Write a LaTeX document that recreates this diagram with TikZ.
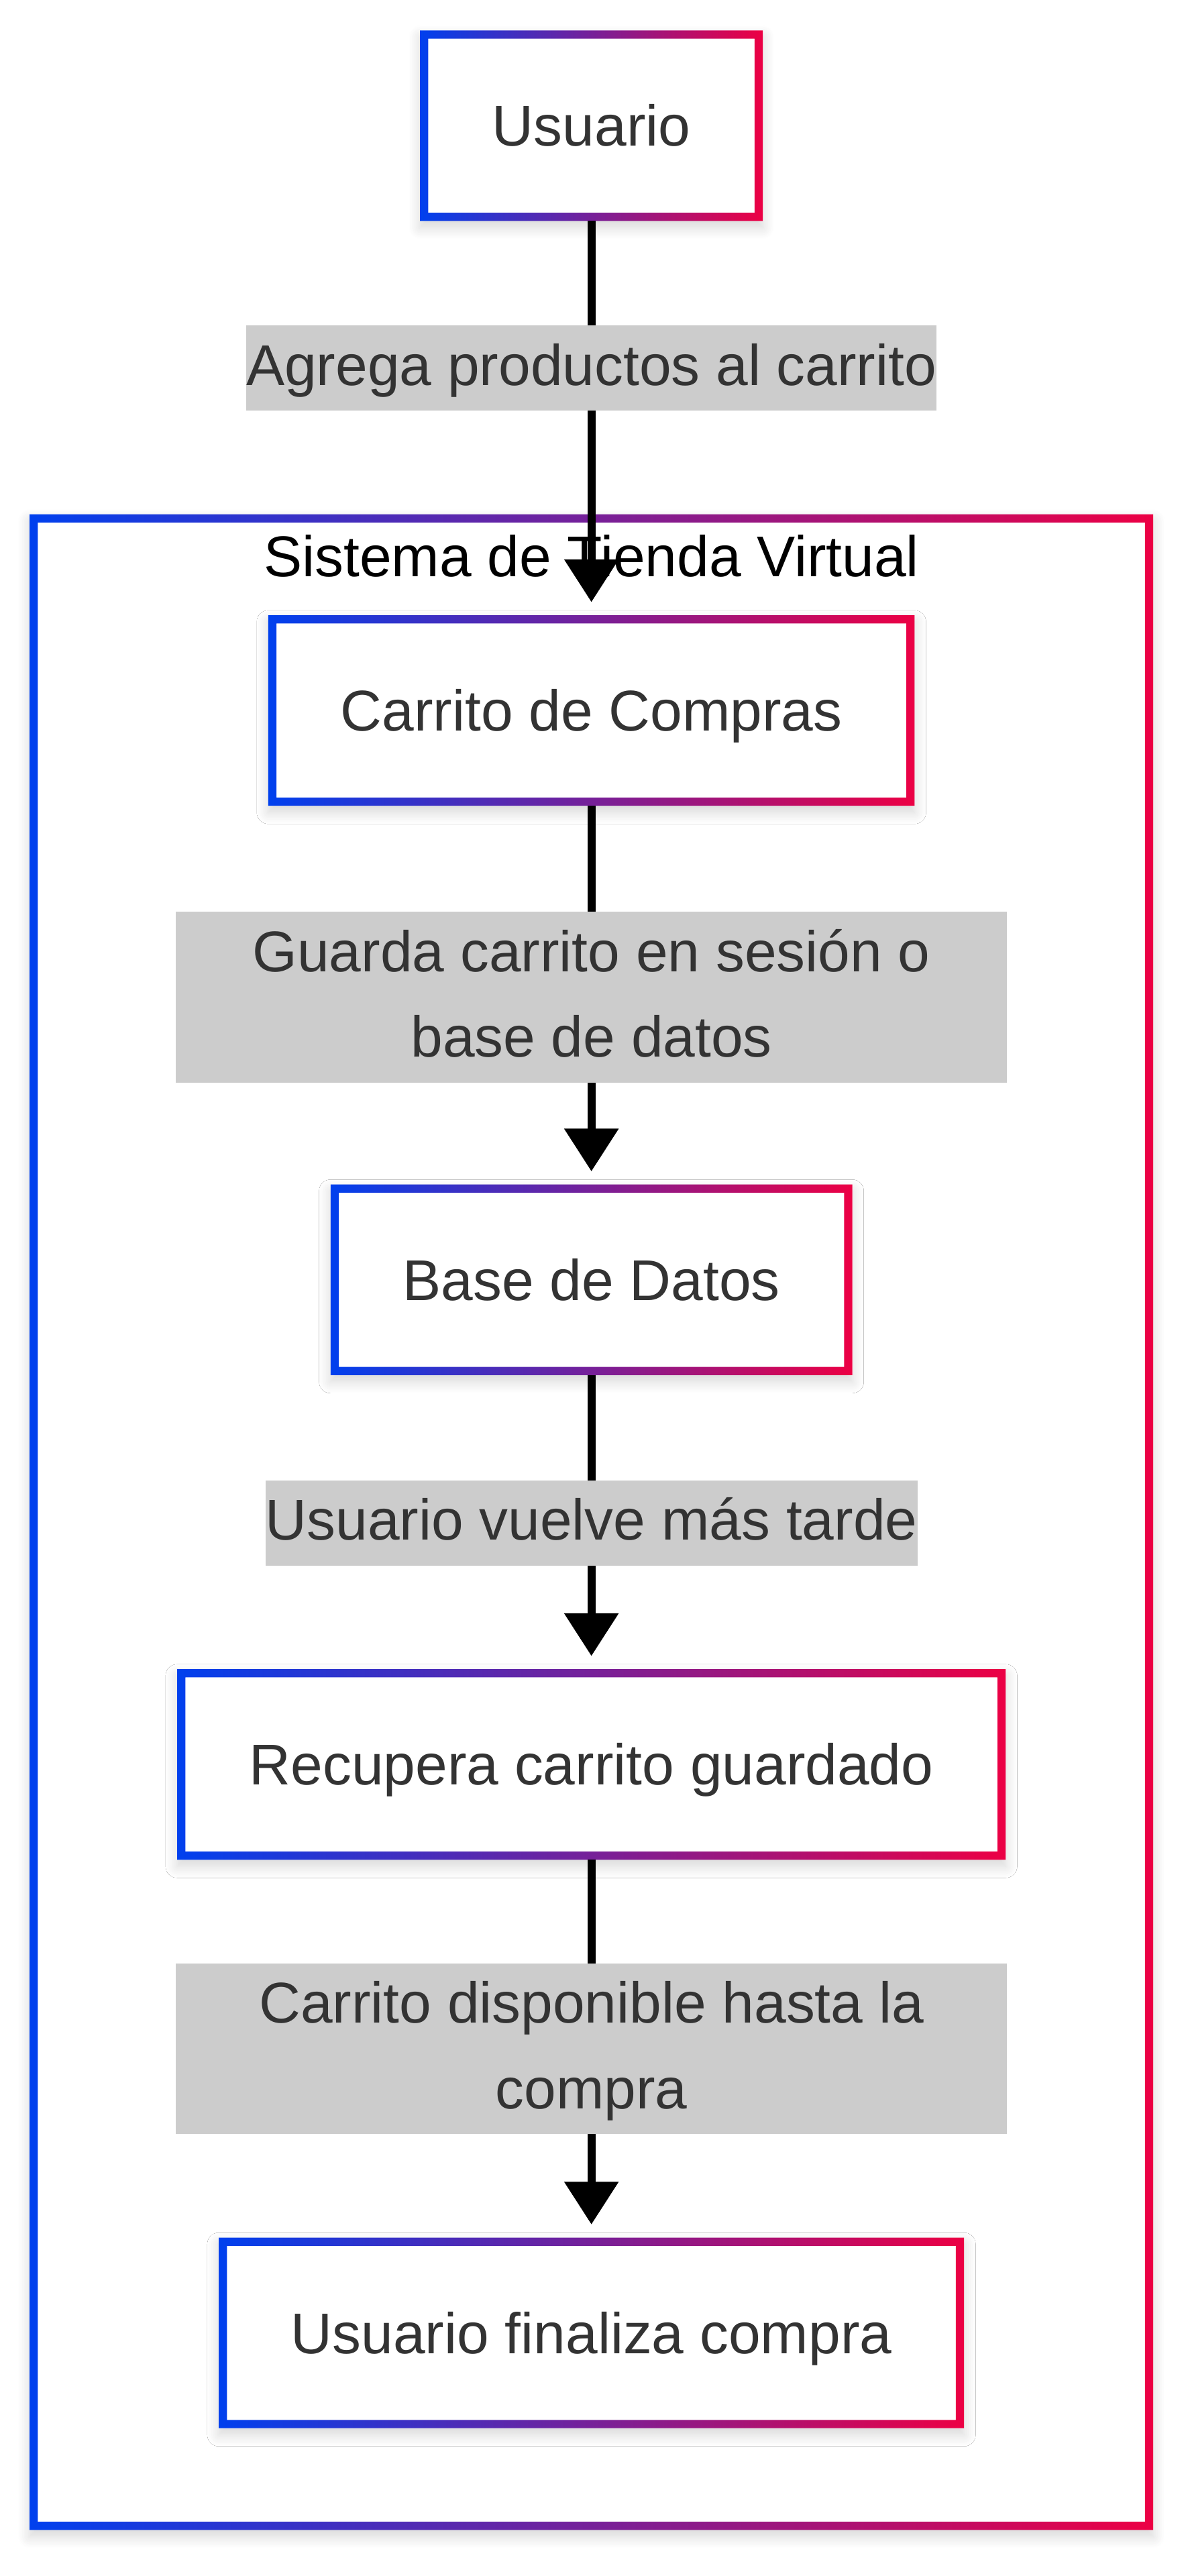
\documentclass[tikz,border=0pt]{standalone}
\usepackage{fontspec}
\setmainfont{Liberation Sans}
\usepackage{tikz}
\usetikzlibrary{arrows.meta, shadows.blur}
\definecolor{tvblue}{RGB}{0,64,238}
\definecolor{tvred}{RGB}{236,0,68}
\definecolor{tvtext}{RGB}{51,51,51}
\definecolor{tvlabel}{RGB}{204,204,204}
\newcommand{\gradframe}[1]{%
  \shade[left color=tvblue, right color=tvred, even odd rule]
    (#1.south west) rectangle (#1.north east)
    ([xshift=5pt,yshift=5pt]#1.south west) rectangle ([xshift=-5pt,yshift=-5pt]#1.north east);}

\begin{document}
\begin{tikzpicture}[
  x=1pt, y=-1pt,
  font=\fontsize{35}{52}\selectfont,
  softshadow/.style={blur shadow={shadow xshift=0pt, shadow yshift=-4pt, shadow blur radius=7pt, shadow blur steps=12, shadow opacity=16}},
  stepbox/.style={rectangle, fill=white, text=tvtext, minimum height=116pt, inner xsep=44pt, inner ysep=0pt, outer sep=0pt, text height=31pt, text depth=6pt, softshadow},
  cluster/.style={rectangle, fill=white, minimum width=684pt, minimum height=1227pt, outer sep=0pt, softshadow},
  edgelabel/.style={fill=tvlabel, text=tvtext, inner sep=0pt, align=flush center, execute at begin node=\strut, execute at end node=\strut},
  arrow/.style={-{Triangle[width=32pt, length=26pt]}, line width=4.8pt, shorten >=8pt}
]
\useasboundingbox (0,0) rectangle (723,1568);

% Subgraph - Sistema de Tienda Virtual
\node[cluster] (sys) at (360,926.5) {};
\gradframe{sys}
\node[anchor=base, text=black] (systitle) at (360,351) {Sistema de Tienda Virtual};

% Steps
\node[stepbox] (usr) at (360,76.5) {Usuario};
\node[stepbox] (cart) at (360,432.5) {Carrito de Compras};
\node[stepbox] (db) at (360,779) {Base de Datos};
\node[stepbox] (rec) at (360,1074) {Recupera carrito guardado};
\node[stepbox] (fin) at (360,1420) {Usuario finaliza compra};
\foreach \n in {usr, cart, db, rec, fin} {\gradframe{\n}}

% Arrows
\draw[arrow] (usr) -- (cart);
\draw[arrow] (cart) -- (db);
\draw[arrow] (db) -- (rec);
\draw[arrow] (rec) -- (fin);

% Labels
\node[edgelabel] (l1) at (360,224) {Agrega productos al carrito};
\node[edgelabel, text width=506pt] (l2) at (360,607) {Guarda carrito en sesión o\\base de datos};
\node[edgelabel] (l3) at (360,927) {Usuario vuelve más tarde};
\node[edgelabel, text width=506pt] (l4) at (360,1247) {Carrito disponible hasta la\\compra};

\end{tikzpicture}
\end{document}
